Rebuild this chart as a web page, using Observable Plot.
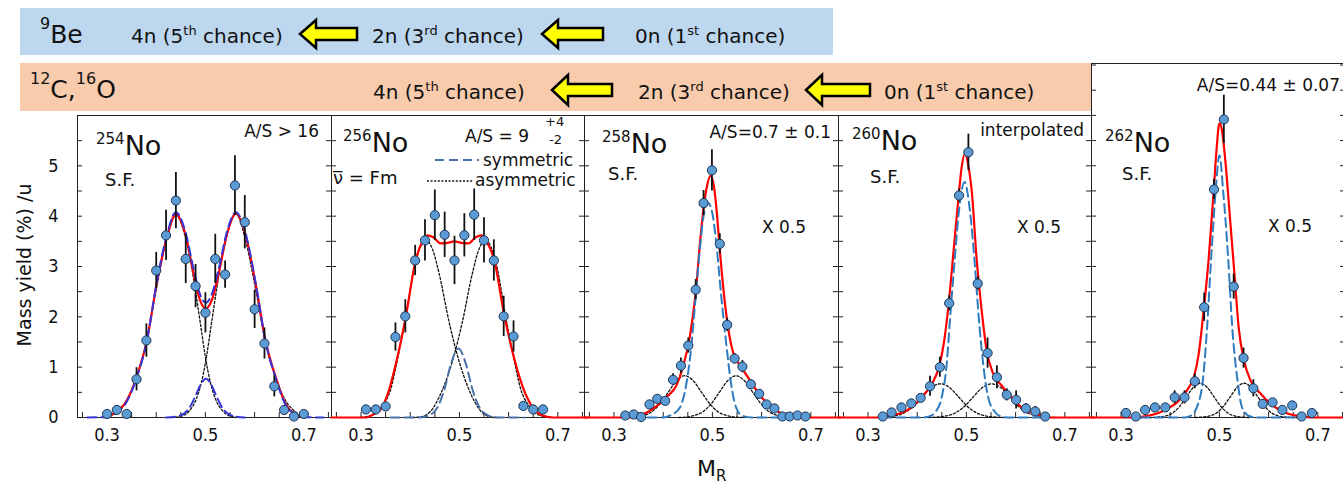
<!DOCTYPE html>
<html>
<head>
<meta charset="utf-8">
<script src="https://cdn.jsdelivr.net/npm/d3@7"></script>
<script src="https://cdn.jsdelivr.net/npm/@observablehq/plot@0.6"></script>
<style>
  html, body { margin: 0; padding: 0; background: #fff; }
  #fig { position: relative; width: 1343px; height: 485px; overflow: hidden; }
  #fig svg.panel { position: absolute; background: transparent; overflow: visible; }
</style>
</head>
<body>
<div id="fig"></div>
<script>
// ---------- shared axes ----------
const massTicks = [0.3, 0.5, 0.7];
const massMinorTicks = [0.25, 0.3, 0.35, 0.4, 0.45, 0.5, 0.55, 0.6, 0.65, 0.7, 0.75];
const yieldTicks = [0, 1, 2, 3, 4, 5];
const yieldMinorTicks = [0, 0.5, 1, 1.5, 2, 2.5, 3, 3.5, 4, 4.5, 5, 5.5, 6, 6.5, 7];

// ---------- 254No ----------
const masses254 = [0.30,0.32,0.34,0.36,0.38,0.40,0.42,0.44,0.46,0.48,0.50,0.52,0.54,0.56,0.58,0.60,0.62,0.64,0.66,0.68,0.70];
const yields254 = [0.07,0.15,0.07,0.76,1.53,2.92,3.62,4.31,3.15,2.61,2.08,3.15,2.84,4.61,3.88,2.15,1.47,0.62,0.15,0.02,0.07];
const errors254 = [0,0,0,0.23,0.33,0.36,0.5,0.56,0.49,0.43,0.4,0.49,0.27,0.59,0.53,0.38,0.31,0.21,0,0,0];
const fit254 = [[0.30,0.01],[0.309,0.05],[0.32,0.12],[0.336,0.27],[0.36,0.8],[0.381,1.53],[0.401,2.66],[0.421,3.55],[0.44,4.04],[0.459,3.65],[0.476,2.86],[0.489,2.33],[0.501,2.16],[0.513,2.33],[0.527,2.86],[0.544,3.65],[0.562,4.05],[0.581,3.65],[0.602,2.66],[0.622,1.53],[0.643,0.8],[0.663,0.27],[0.68,0.08],[0.70,0.01]];
const total254 = [[0.26,0],[0.30,0.01],[0.32,0.1],[0.336,0.25],[0.36,0.78],[0.381,1.52],[0.401,2.68],[0.421,3.6],[0.44,4.08],[0.459,3.7],[0.476,2.95],[0.489,2.45],[0.501,2.28],[0.513,2.45],[0.527,2.95],[0.544,3.7],[0.562,4.08],[0.581,3.68],[0.602,2.68],[0.622,1.52],[0.643,0.78],[0.663,0.25],[0.68,0.08],[0.70,0.01],[0.74,0]];
const sym254 = [[0.42,0],[0.445,0.03],[0.466,0.17],[0.479,0.41],[0.49,0.65],[0.501,0.77],[0.512,0.65],[0.523,0.41],[0.536,0.17],[0.557,0.03],[0.58,0]];
const asymLow254 = [[0.30,0.02],[0.32,0.12],[0.34,0.35],[0.36,0.8],[0.38,1.5],[0.40,2.55],[0.42,3.5],[0.44,4.02],[0.46,3.55],[0.47,3.1],[0.48,2.5],[0.49,1.85],[0.50,1.2],[0.51,0.7],[0.52,0.38],[0.535,0.13],[0.55,0.03],[0.57,0]];
const asymHigh254 = [[0.432,0],[0.452,0.03],[0.467,0.13],[0.482,0.38],[0.492,0.7],[0.502,1.2],[0.512,1.85],[0.522,2.5],[0.532,3.1],[0.542,3.55],[0.562,4.04],[0.582,3.5],[0.602,2.55],[0.622,1.5],[0.642,0.8],[0.662,0.35],[0.682,0.12],[0.702,0.02]];

// ---------- 256No ----------
const masses256 = [0.31,0.33,0.35,0.37,0.39,0.41,0.43,0.45,0.47,0.49,0.51,0.53,0.55,0.57,0.59,0.61,0.63,0.65,0.67];
const yields256 = [0.16,0.16,0.22,1.6,2.01,3.12,3.52,4.02,3.63,3.12,3.62,4.03,3.52,3.12,2.01,1.61,0.23,0.16,0.16];
const errors256 = [0,0,0,0.28,0.33,0.3,0.41,0.5,0.45,0.48,0.43,0.51,0.45,0.41,0.4,0.31,0,0,0];
const fit256 = [[0.24,0],[0.31,0],[0.323,0.05],[0.34,0.16],[0.357,0.55],[0.374,1.2],[0.391,2.0],[0.411,3.12],[0.425,3.5],[0.435,3.62],[0.447,3.58],[0.462,3.46],[0.476,3.47],[0.49,3.5],[0.504,3.47],[0.518,3.46],[0.533,3.58],[0.545,3.62],[0.555,3.5],[0.571,3.12],[0.591,2.04],[0.608,1.3],[0.629,0.6],[0.649,0.2],[0.666,0.05],[0.69,0],[0.76,0]];
const sym256 = [[0.36,0],[0.42,0],[0.445,0.08],[0.452,0.15],[0.469,0.54],[0.483,1.07],[0.498,1.37],[0.513,1.07],[0.527,0.54],[0.544,0.15],[0.552,0.08],[0.575,0],[0.63,0]];
const asymLow256 = [[0.30,0],[0.33,0.08],[0.345,0.25],[0.36,0.55],[0.375,1.2],[0.39,1.95],[0.41,3.05],[0.432,3.52],[0.445,3.35],[0.459,2.85],[0.479,1.9],[0.496,1.23],[0.52,0.54],[0.544,0.12],[0.56,0.02],[0.58,0]];
const asymHigh256 = [[0.405,0],[0.425,0.02],[0.441,0.12],[0.465,0.54],[0.489,1.23],[0.506,1.9],[0.526,2.85],[0.54,3.35],[0.553,3.52],[0.575,3.05],[0.595,1.95],[0.61,1.2],[0.625,0.55],[0.64,0.25],[0.655,0.08],[0.685,0]];

// ---------- 258No ----------
const masses258 = [0.323,0.34,0.355,0.372,0.388,0.404,0.42,0.436,0.451,0.466,0.482,0.499,0.515,0.53,0.545,0.561,0.578,0.595,0.61,0.626,0.642,0.657,0.673,0.689];
const yields258 = [0.04,0.06,0.01,0.26,0.37,0.33,0.75,1.03,1.43,2.54,4.26,4.91,3.45,1.84,1.17,1.01,0.66,0.47,0.26,0.18,0.02,0.02,0.04,0.02];
const errors258 = [0,0,0,0.05,0.06,0.06,0.12,0.15,0.15,0.2,0.25,0.41,0.2,0.13,0.1,0.12,0.08,0.06,0.05,0.05,0,0,0,0];
const fit258 = [[0.24,0],[0.33,0],[0.347,0.03],[0.367,0.1],[0.387,0.23],[0.407,0.41],[0.427,0.64],[0.44,1.0],[0.454,1.6],[0.467,2.59],[0.475,3.5],[0.482,4.15],[0.489,4.6],[0.496,4.8],[0.503,4.6],[0.51,3.95],[0.514,3.45],[0.528,2.06],[0.541,1.33],[0.561,0.97],[0.581,0.67],[0.6,0.4],[0.621,0.2],[0.642,0.07],[0.662,0.02],[0.68,0],[0.76,0]];
const sym258 = [[0.34,0],[0.40,0],[0.414,0.04],[0.434,0.2],[0.447,0.67],[0.457,1.4],[0.464,2.17],[0.474,3.3],[0.482,4.0],[0.491,4.26],[0.5,4.05],[0.508,3.45],[0.518,2.4],[0.528,1.47],[0.538,0.67],[0.548,0.2],[0.56,0.04],[0.58,0],[0.64,0]];
const asymLow258 = [[0.33,0],[0.34,0.01],[0.36,0.04],[0.376,0.11],[0.394,0.28],[0.41,0.5],[0.427,0.73],[0.444,0.83],[0.461,0.73],[0.478,0.5],[0.494,0.28],[0.512,0.11],[0.529,0.04],[0.544,0.01],[0.56,0]];
const asymHigh258 = [[0.432,0],[0.448,0.01],[0.463,0.04],[0.48,0.11],[0.498,0.28],[0.514,0.5],[0.531,0.73],[0.548,0.83],[0.565,0.73],[0.582,0.5],[0.598,0.28],[0.616,0.11],[0.632,0.04],[0.652,0.01],[0.66,0]];

// ---------- 260No (interpolated) ----------
const masses260 = [0.33,0.348,0.368,0.388,0.407,0.426,0.446,0.465,0.485,0.504,0.523,0.543,0.562,0.582,0.601,0.621,0.64,0.66];
const yields260 = [0.02,0.1,0.2,0.28,0.39,0.62,1.0,2.27,4.41,5.27,2.66,1.28,0.8,0.45,0.35,0.18,0.12,0.02];
const errors260 = [0,0,0,0.05,0.06,0.2,0.2,0.15,0.13,0.36,0.13,0.3,0.23,0.12,0.18,0.1,0.1,0];
const fit260 = [[0.24,0],[0.323,0],[0.343,0.04],[0.37,0.1],[0.39,0.21],[0.41,0.41],[0.43,0.67],[0.444,1.0],[0.454,1.47],[0.464,2.27],[0.474,3.32],[0.484,4.38],[0.49,4.95],[0.497,5.24],[0.504,5.0],[0.511,4.48],[0.521,3.12],[0.531,2.13],[0.541,1.34],[0.554,0.88],[0.571,0.64],[0.591,0.41],[0.611,0.21],[0.632,0.1],[0.652,0.04],[0.67,0],[0.76,0]];
const sym260 = [[0.33,0],[0.41,0],[0.424,0.02],[0.437,0.11],[0.45,0.41],[0.46,1.07],[0.467,2.0],[0.476,3.12],[0.485,4.12],[0.496,4.68],[0.507,4.12],[0.517,3.05],[0.525,2.0],[0.534,1.07],[0.544,0.41],[0.558,0.11],[0.571,0.02],[0.585,0],[0.65,0]];
const asymLow260 = [[0.33,0],[0.337,0.01],[0.355,0.03],[0.373,0.09],[0.392,0.22],[0.41,0.41],[0.429,0.6],[0.447,0.67],[0.465,0.6],[0.484,0.41],[0.502,0.22],[0.521,0.09],[0.539,0.03],[0.557,0.01],[0.575,0]];
const asymHigh260 = [[0.423,0],[0.441,0.01],[0.459,0.03],[0.477,0.09],[0.496,0.22],[0.514,0.41],[0.533,0.6],[0.551,0.67],[0.569,0.6],[0.588,0.41],[0.606,0.22],[0.625,0.09],[0.643,0.03],[0.661,0.01],[0.68,0]];

// ---------- 262No ----------
const masses262 = [0.31,0.33,0.349,0.369,0.39,0.409,0.429,0.45,0.469,0.489,0.509,0.529,0.549,0.569,0.588,0.608,0.628,0.648,0.667,0.688];
const yields262 = [0.09,0.02,0.15,0.2,0.2,0.4,0.4,0.72,2.19,4.53,5.92,2.6,1.18,0.58,0.27,0.3,0.15,0.24,0.02,0.09];
const errors262 = [0,0,0,0,0,0.13,0.13,0.15,0.28,0.2,0.48,0.25,0.2,0.17,0.06,0.06,0,0,0,0];
const fit262 = [[0.24,0],[0.332,0],[0.352,0.03],[0.373,0.08],[0.393,0.17],[0.414,0.3],[0.434,0.54],[0.448,0.8],[0.458,1.27],[0.468,2.13],[0.478,3.13],[0.488,4.45],[0.494,5.3],[0.5,5.84],[0.506,5.65],[0.512,5.1],[0.522,3.9],[0.531,2.79],[0.539,1.8],[0.55,1.13],[0.563,0.74],[0.584,0.47],[0.604,0.27],[0.624,0.14],[0.645,0.06],[0.672,0.02],[0.69,0],[0.76,0]];
const sym262 = [[0.34,0],[0.43,0],[0.441,0.03],[0.454,0.2],[0.467,0.8],[0.475,1.8],[0.483,3.13],[0.492,4.45],[0.5,5.21],[0.508,4.45],[0.518,3.13],[0.526,1.8],[0.536,0.8],[0.546,0.2],[0.56,0.03],[0.575,0],[0.66,0]];
const asymLow262 = [[0.34,0],[0.36,0],[0.377,0.01],[0.391,0.03],[0.405,0.09],[0.419,0.22],[0.433,0.41],[0.447,0.6],[0.461,0.68],[0.475,0.6],[0.489,0.41],[0.503,0.22],[0.517,0.09],[0.531,0.03],[0.545,0.01],[0.56,0]];
const asymHigh262 = [[0.451,0],[0.466,0.01],[0.48,0.03],[0.494,0.09],[0.508,0.22],[0.522,0.41],[0.536,0.6],[0.55,0.68],[0.564,0.6],[0.578,0.41],[0.592,0.22],[0.606,0.09],[0.62,0.03],[0.634,0.01],[0.651,0],[0.66,0]];

// ---------- layout ----------
const PX_PER_MASS = 492;      // horizontal pixels per unit of M_R
const MASS_AT_LEFT = 0.24;    // M_R at each panel's left frame
const frameLefts = [77, 331, 584, 838, 1091];
const frameRights = [331, 584, 838, 1091, 1345];
const AXIS_Y = 417;           // pixel row of yield = 0

const RED = "#ff0000", BLUE = "#2f7bbf", STEEL = "#4a72aa", VIOLET = "#3535d8", DOT = "#5b9bd5";

const panels = [
  {masses: masses254, yields: yields254, errors: errors254, fit: fit254, dashed: [total254, sym254], dashColor: VIOLET, asym: [asymLow254, asymHigh254], top: 115, yMax: 6},
  {masses: masses256, yields: yields256, errors: errors256, fit: fit256, dashed: [sym256], dashColor: STEEL, asym: [asymLow256, asymHigh256], top: 115, yMax: 6},
  {masses: masses258, yields: yields258, errors: errors258, fit: fit258, dashed: [sym258], dashColor: BLUE, asym: [asymLow258, asymHigh258], top: 115, yMax: 6},
  {masses: masses260, yields: yields260, errors: errors260, fit: fit260, dashed: [sym260], dashColor: BLUE, asym: [asymLow260, asymHigh260], top: 115, yMax: 6},
  {masses: masses262, yields: yields262, errors: errors262, fit: fit262, dashed: [sym262], dashColor: BLUE, asym: [asymLow262, asymHigh262], top: 63, yMax: 7.03}
];

const fig = document.getElementById("fig");
const condensed = "'DejaVu Sans Condensed', 'DejaVu Sans', sans-serif";
const sans = "'DejaVu Sans', Verdana, sans-serif";

panels.forEach((p, i) => {
  const innerW = frameRights[i] - frameLefts[i];
  const innerH = AXIS_Y - p.top;
  const marginLeft = i === 0 ? frameLefts[0] : 0;
  const rows = p.masses.map((m, j) => ({m, y: p.yields[j], e: p.errors[j]}));
  const bars = rows.filter(d => d.e > 0);
  const minorY = yieldMinorTicks.filter(v => v <= p.yMax);
  const line = (data, o) => Plot.line(data, {x: d => d[0], y: d => d[1], curve: "monotone-x", ...o});

  const chart = Plot.plot({
    width: marginLeft + innerW,
    height: innerH + 50,
    marginLeft, marginRight: 0, marginTop: 0, marginBottom: 50,
    style: {background: "transparent", overflow: "visible", fontFamily: condensed, color: "#111"},
    x: {domain: [MASS_AT_LEFT, MASS_AT_LEFT + innerW / PX_PER_MASS], axis: null},
    y: {domain: [0, p.yMax], axis: null},
    marks: [
      Plot.frame({stroke: "#222", strokeWidth: 1}),
      Plot.tickX(massMinorTicks, {x: d => d, stroke: "#222", insetTop: innerH - 5}),
      Plot.tickY(minorY, {y: d => d, stroke: "#222", insetRight: innerW - 5}),
      Plot.tickY(minorY, {y: d => d, stroke: "#222", insetLeft: innerW - 5}),
      Plot.axisX({ticks: massTicks, tickSize: 0, tickPadding: 11, tickFormat: d3.format(".1f"), label: null, fontSize: 18, fontFamily: condensed}),
      i === 0 ? Plot.axisY({ticks: yieldTicks, tickSize: 0, tickPadding: 19, tickFormat: d3.format("d"), label: null, fontSize: 18, fontFamily: condensed}) : null,
      ...p.asym.map(a => line(a, {stroke: "#111", strokeWidth: 1.3, strokeDasharray: "2.2,2"})),
      line(p.fit, {stroke: RED, strokeWidth: 2.2}),
      ...p.dashed.map(a => line(a, {stroke: p.dashColor, strokeWidth: 2, strokeDasharray: "9,5"})),
      Plot.ruleX(bars, {x: "m", y1: d => d.y - d.e, y2: d => d.y + d.e, stroke: "#111", strokeWidth: 1.8}),
      Plot.dot(rows, {x: "m", y: "y", r: 4.6, fill: DOT, stroke: "#1d3553", strokeWidth: 1})
    ]
  });
  chart.classList.add("panel");
  chart.style.left = (frameLefts[i] - marginLeft) + "px";
  chart.style.top = p.top + "px";
  fig.appendChild(chart);
});

// ---------- banners, annotations and axis titles ----------
const overlay = d3.select(fig).append("svg")
  .attr("width", 1343).attr("height", 485)
  .style("position", "absolute").style("left", 0).style("top", 0);

overlay.append("rect").attr("x", 20).attr("y", 8).attr("width", 813).attr("height", 47).attr("fill", "#bdd7ee");
overlay.append("rect").attr("x", 20).attr("y", 63).attr("width", 1071).attr("height", 48).attr("fill", "#f8cbad");

// parts: strings (normal) or [text, size, rise] (raised/lowered runs)
function label(parts, x, y, {size = 17, anchor = "start", family = sans, fill = "#111"} = {}) {
  const t = overlay.append("text").attr("x", x).attr("y", y).attr("font-size", size)
    .attr("text-anchor", anchor).attr("font-family", family).attr("fill", fill);
  let rise = 0;
  for (const part of parts) {
    const [txt, s, r] = typeof part === "string" ? [part, size, 0] : part;
    t.append("tspan").attr("font-size", s).attr("dy", rise - r).text(txt);
    rise = r;
  }
  return t;
}

function arrow(x0, x1, cy, hh) {
  const hl = 16, sh = 6;
  const pts = [[x0, cy], [x0 + hl, cy - hh], [x0 + hl, cy - sh], [x1, cy - sh], [x1, cy + sh], [x0 + hl, cy + sh], [x0 + hl, cy + hh]];
  overlay.append("polygon").attr("points", pts.map(d => d.join(",")).join(" "))
    .attr("fill", "#ffff00").attr("stroke", "#000").attr("stroke-width", 2.5).attr("stroke-linejoin", "miter");
}

const chanceParts = (n, k, ord) => [n + " (" + k, [ord, 13, 8], " chance)"];

// 9Be row
label([["9", 16, 14], ["Be", 25, 0]], 40, 43, {size: 25});
label(chanceParts("4n", "5", "th"), 131, 43, {size: 20});
arrow(300, 357, 34, 14);
label(chanceParts("2n", "3", "rd"), 372, 43, {size: 20});
arrow(542, 603, 34, 14);
label(chanceParts("0n", "1", "st"), 635, 43, {size: 20});

// 12C, 16O row
label([["12", 16, 14], ["C,", 25, 0], ["16", 16, 14], ["O", 25, 0]], 30, 98, {size: 25});
label(chanceParts("4n", "5", "th"), 373, 99, {size: 20});
arrow(552, 612, 90, 15);
label(chanceParts("2n", "3", "rd"), 638, 99, {size: 20});
arrow(806, 870, 90, 15);
label(chanceParts("0n", "1", "st"), 884, 99, {size: 20});

// panel annotations
const nuclide = (mass, x, y) => label([[mass, 15, 11], ["No", 27, 0]], x, y, {size: 27});
nuclide("254", 96, 155);
label(["S.F."], 105, 186, {size: 18});
label(["A/S > 16"], 319, 137, {size: 17, anchor: "end"});

nuclide("256", 343, 152);
label([["\u03bd\u0305", 18, 0], " = Fm"], 333, 184, {size: 18});
label(["A/S = 9"], 465, 142, {size: 17});
label(["+4"], 545, 126, {size: 13});
label(["-2"], 549, 144, {size: 13});
overlay.append("line").attr("x1", 435).attr("x2", 479).attr("y1", 160).attr("y2", 160)
  .attr("stroke", STEEL).attr("stroke-width", 2).attr("stroke-dasharray", "9,5");
label(["symmetric"], 483, 166, {size: 17});
overlay.append("line").attr("x1", 427).attr("x2", 473).attr("y1", 181).attr("y2", 181)
  .attr("stroke", "#111").attr("stroke-width", 1.5).attr("stroke-dasharray", "2,1.6");
label(["asymmetric"], 475, 186, {size: 17});

nuclide("258", 602, 153);
label(["S.F."], 608, 180, {size: 18});
label(["A/S=0.7 \u00b1 0.1"], 831, 138, {size: 17, anchor: "end"});
label(["X 0.5"], 762, 233, {size: 17});

nuclide("260", 852, 150);
label(["S.F."], 870, 183, {size: 18});
label(["interpolated"], 1084, 136, {size: 17, anchor: "end"});
label(["X 0.5"], 1017, 233, {size: 17});

label(["A/S=0.44 \u00b1 0.07"], 1340, 91, {size: 17, anchor: "end"});
nuclide("262", 1105, 152);
label(["S.F."], 1122, 180, {size: 18});
label(["X 0.5"], 1268, 232, {size: 17});

// axis titles
overlay.append("text").attr("transform", "translate(31,265) rotate(-90)")
  .attr("text-anchor", "middle").attr("font-family", sans).attr("font-size", 19).attr("fill", "#111")
  .text("Mass yield (%) /u");
label([["M", 22, 0], ["R", 15, -5]], 697, 476, {size: 22});
</script>
</body>
</html>
